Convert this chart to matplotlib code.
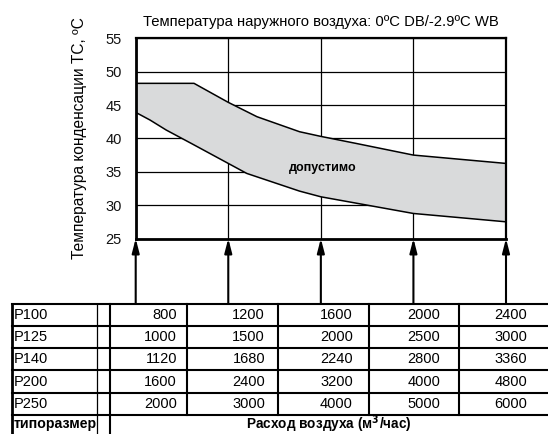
import matplotlib
matplotlib.use('Agg')
import matplotlib.pyplot as plt
import numpy as np

plt.rcParams['font.family'] = ['Liberation Sans', 'DejaVu Sans']

# граница допустимой зоны (ось x = расход воздуха P100, м3/час)
upper_x = [800, 1052, 1200, 1324, 1508, 1600, 1752, 2000, 2400]
upper_y = [48.25, 48.25, 45.4, 43.25, 41.0, 40.3, 39.25, 37.5, 36.25]
lower_x = [800, 862, 932, 1040, 1200, 1280, 1508, 1600, 2000, 2400]
lower_y = [43.9, 42.75, 41.25, 39.25, 36.25, 34.75, 32.1, 31.25, 28.75, 27.5]

# таблица расходов по типоразмерам
sizes = ['P100', 'P125', 'P140', 'P200', 'P250']
flows = [[800, 1200, 1600, 2000, 2400],
         [1000, 1500, 2000, 2500, 3000],
         [1120, 1680, 2240, 2800, 3360],
         [1600, 2400, 3200, 4000, 4800],
         [2000, 3000, 4000, 5000, 6000]]
x_ticks = flows[0]
y_ticks = [25, 30, 35, 40, 45, 50, 55]

W, H = 548, 434
fig = plt.figure(figsize=(W/100, H/100), dpi=100)

# --- график ---
ax_l, ax_r, ax_t, ax_b = 135.7, 506, 38.3, 238.5
ax = fig.add_axes([ax_l/W, 1 - ax_b/H, (ax_r-ax_l)/W, (ax_b-ax_t)/H])
ax.set_xlim(800, 2400)
ax.set_ylim(25, 55)

poly_x = np.concatenate([upper_x, lower_x[::-1]])
poly_y = np.concatenate([upper_y, lower_y[::-1]])
ax.fill(poly_x, poly_y, color='#d9dadb', zorder=2, lw=0)
ax.plot(upper_x, upper_y, color='black', lw=1.1, zorder=3)
ax.plot(lower_x, lower_y, color='black', lw=1.1, zorder=3)
ax.plot([upper_x[-1], lower_x[-1]], [upper_y[-1], lower_y[-1]], color='black', lw=1.1, zorder=3)

ax.set_xticks(x_ticks)
ax.set_yticks(y_ticks)
ax.grid(True, color='black', lw=0.9, zorder=1)
ax.set_axisbelow(True)
ax.tick_params(axis='x', length=0, labelbottom=False)
ax.tick_params(axis='y', length=0, pad=10, labelsize=10.5, colors='#111111')
for side in ['left', 'bottom']:
    ax.spines[side].set_linewidth(2.0)
for side in ['top', 'right']:
    ax.spines[side].set_linewidth(1.6)
for s in ax.spines.values():
    s.set_zorder(4)

ax.set_ylabel('Температура конденсации ТС, ºC', fontsize=11.2, labelpad=13)
ax.set_title('Температура наружного воздуха: 0ºC DB/-2.9ºC WB', fontsize=10.7, pad=9)
ax.text(1610, 35.5, 'допустимо', fontsize=9, fontweight='bold', ha='center', va='center', zorder=5)

# --- таблица (в пикселях) ---
tab = fig.add_axes([0, 0, 1, 1])
tab.set_xlim(0, W)
tab.set_ylim(H, 0)
tab.axis('off')

table_top = 303.5
row_h = 22.3
col_edges = [110, 187, 278, 369, 459, 549]
n_rows = len(sizes) + 1
row_edges = [table_top + i*row_h for i in range(n_rows + 1)]

# стрелки от таблицы к графику
arrow_y = (H - table_top - (H - ax_b)) / (ax_b - ax_t)
for xv in x_ticks:
    ax.annotate('', xy=(xv, 25), xycoords='data',
                xytext=(xv, arrow_y), textcoords=('data', 'axes fraction'),
                arrowprops=dict(arrowstyle='-|>,head_length=0.85,head_width=0.22',
                                color='black', lw=1.5, shrinkA=0, shrinkB=0),
                annotation_clip=False)

for yv in row_edges[:-1]:
    tab.plot([12, W], [yv, yv], color='black', lw=1.5)
tab.plot([12, 12], [table_top, H], color='black', lw=2.0)
tab.plot([96.7, 96.7], [table_top, H], color='black', lw=0.9)
tab.plot([110, 110], [table_top, H], color='black', lw=1.5)
for xv in col_edges[1:-1]:
    tab.plot([xv, xv], [table_top, row_edges[-2]], color='black', lw=1.5)

for i, name in enumerate(sizes):
    yc = row_edges[i] + row_h/2
    tab.text(14, yc, name, fontsize=10.5, ha='left', va='center')
    for j, val in enumerate(flows[i]):
        tab.text(col_edges[j+1] - 10 - 3*j, yc, str(val), fontsize=10.5, ha='right', va='center')

yc = row_edges[-2] + 9
tab.text(14, yc, 'типоразмер', fontsize=10.2, fontweight='bold', ha='left', va='center')
tab.text((110 + W)/2, yc, 'Расход воздуха (м$^\\mathbf{3}$/час)', fontsize=9.8, fontweight='bold',
         ha='center', va='center')

fig.savefig('out.png', dpi=100)
